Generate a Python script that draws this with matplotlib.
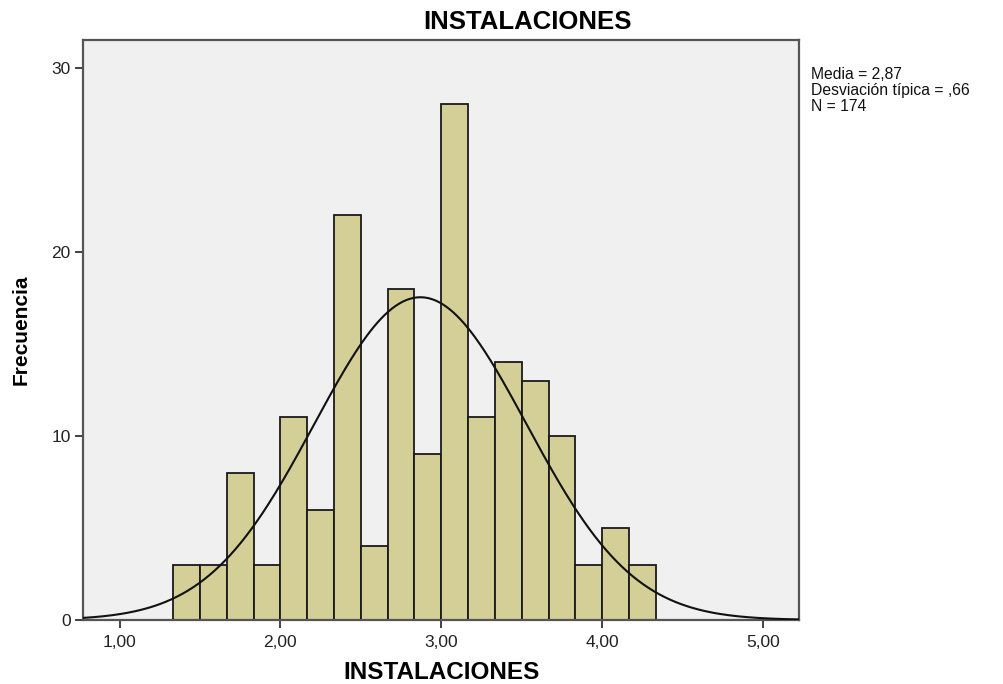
import numpy as np
import matplotlib
matplotlib.use("Agg")
import matplotlib.pyplot as plt

plt.rcParams['font.family'] = ['Liberation Sans', 'DejaVu Sans']

# histogram counts, bins of width 1/6 from 1.333 to 4.333
counts = [3, 3, 8, 3, 11, 6, 22, 4, 18, 9, 28, 11, 14, 13, 10, 3, 5, 3]
bin_start = 4 / 3
bin_width = 1 / 6
media = 2.87
desv = 0.66
n = 174
xticks = [1, 2, 3, 4, 5]
xtick_labels = ["1,00", "2,00", "3,00", "4,00", "5,00"]
yticks = [0, 10, 20, 30]

fig = plt.figure(figsize=(10.04, 6.84), dpi=100)
ax = fig.add_axes([0.0830, 0.0936, 0.7131, 0.8479])
ax.set_facecolor('#f0f0f0')

edges = bin_start + bin_width * np.arange(len(counts))
ax.bar(edges, counts, width=bin_width, align='edge', color='#d3cf96',
       edgecolor='#1a1a1a', linewidth=1.3, zorder=2)

x0, x1 = 0.775, 5.225
xs = np.linspace(x0, x1, 400)
curve = n * bin_width / (desv * np.sqrt(2 * np.pi)) * np.exp(-0.5 * ((xs - media) / desv) ** 2)
ax.plot(xs, curve, color='#111111', linewidth=1.5, zorder=3)

ax.set_xlim(x0, x1)
ax.set_ylim(0, 31.5)
ax.set_xticks(xticks)
ax.set_xticklabels(xtick_labels)
ax.set_yticks(yticks)
ax.tick_params(axis='both', direction='out', length=6, width=1.3, color='#333333',
               labelsize=12.5, labelcolor='#222222', pad=3)
ax.tick_params(axis='x', pad=5)

for s in ax.spines.values():
    s.set_color('#555555')
    s.set_linewidth(1.6)

fig.text(0.525, 0.968, "INSTALACIONES", fontsize=18.5, fontweight='bold',
         ha='center', va='center')
ax.set_xlabel("INSTALACIONES", fontsize=17.5, fontweight='bold', labelpad=8)
ax.set_ylabel("Frecuencia", fontsize=15, fontweight='bold', labelpad=15)

fig.text(0.808, 0.902, "Media = 2,87\nDesviación típica = ,66\nN = 174",
         fontsize=11.3, va='top', ha='left', linespacing=1.07, color='#111111')

fig.savefig("out.png", dpi=100)
